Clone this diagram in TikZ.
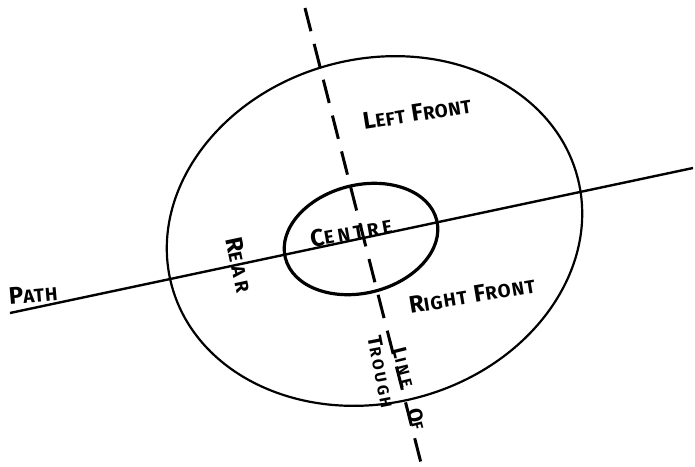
\documentclass[tikz,border=0pt]{standalone}
\usepackage{fontspec}
\setmainfont{Fira Sans}
\makeatletter
\newcommand\hcap[2]{#1{\fontsize{\fpeval{0.78*\f@size}}{\fpeval{0.78*\f@size}}\selectfont #2}}
\makeatother
\newcommand\lsp[1]{\addfontfeature{LetterSpace=#1}}
\tikzset{
  lbl/.style={inner sep=0pt, anchor=center, font=\fontsize{24}{24}\selectfont\bfseries},
  lblsm/.style={inner sep=0pt, anchor=center, font=\fontsize{20}{20}\selectfont\bfseries},
  outerring/.style={line width=2.2pt},
  innerring/.style={line width=3.2pt},
  pathline/.style={line width=2.4pt},
  troughline/.style={line width=3pt, dash pattern=on 24pt off 13pt}
}
\begin{document}
\begin{tikzpicture}[x=1pt,y=-1pt]
\useasboundingbox (0,0) rectangle (695,466);
\coordinate (oc) at (374.5,231);
\coordinate (ic) at (361,239);
\coordinate (p1) at (10,313);
\coordinate (p2) at (693,168);
\coordinate (t1) at (305,8);
\coordinate (t2) at (421,463);
\draw[outerring, rotate around={15:(oc)}] (oc) ellipse [x radius=210, y radius=172];
\draw[innerring, rotate around={14:(ic)}] (ic) ellipse [x radius=78, y radius=54];
\draw[pathline] (p1) -- (p2);
\draw[troughline] (t1) -- (t2);
\node[lbl, rotate=9] (leftfront) at (417,113) {\lsp{3}\hcap{L}{EFT} \hcap{F}{RONT}};
\node[lbl, rotate=9.5] (rightfront) at (472,295) {\lsp{6}\hcap{R}{IGHT} \hcap{F}{RONT}};
\node[lbl, rotate=10] (centre) at (351,232) {\lsp{20}\hcap{C}{ENTRE}};
\node[lbl, rotate=-78] (rear) at (239,265) {\lsp{24}\hcap{R}{EAR}};
\node[lbl, rotate=5] (pathlbl) at (33,294) {\lsp{4}\hcap{P}{ATH}};
\node[lblsm, rotate=-76] (linelbl) at (404,367) {\lsp{22}\hcap{L}{INE}};
\node[lblsm, rotate=-79] (troughlbl) at (381,372) {\lsp{18}\hcap{T}{ROUGH}};
\node[lblsm, rotate=-76] (oflbl) at (417,419) {\lsp{30}\hcap{O}{F}};
\end{tikzpicture}
\end{document}
